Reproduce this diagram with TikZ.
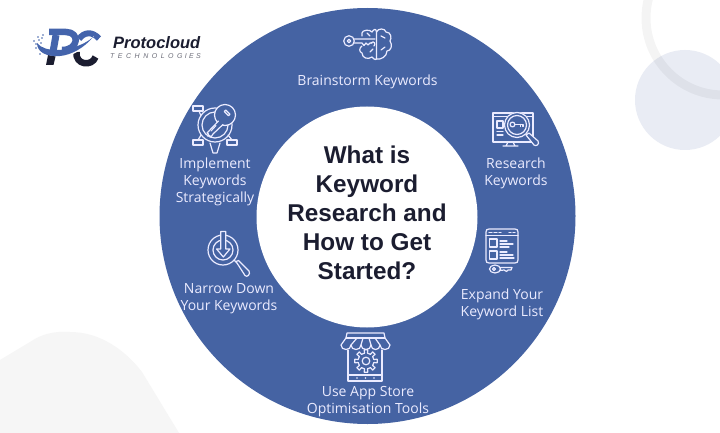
\documentclass[tikz,border=0pt]{standalone}
\usepackage{fontspec}
\setmainfont{Liberation Sans}
\newfontfamily\labelfont{Open Sans}
\begin{document}
\begin{tikzpicture}[x=1pt,y=-1pt,
  lab/.style={text=white!92!blue,font=\labelfont\fontsize{14}{17}\selectfont,align=center,inner sep=0pt},
  ttl/.style={text=ink,font=\fontsize{24.3}{29}\selectfont\bfseries,align=center,inner sep=0pt},
  ic/.style={draw=white!92!blue,line width=1.2pt,line join=round,line cap=round}]
\definecolor{disc}{HTML}{4563A3}
\definecolor{ink}{HTML}{1B1D30}
\definecolor{logob}{HTML}{4464AC}
\definecolor{softc}{HTML}{E9ECF4}
\definecolor{blobc}{HTML}{F6F6F6}
\useasboundingbox (0,0) rectangle (720,433);
\fill[white] (0,0) rectangle (720,433);
% background decoration
\fill[blobc] (0,360) -- (30,342) .. controls (48,330) and (62,332) .. (70,332) .. controls (100,332) and (125,350) .. (142,372) -- (179,433) -- (0,433) -- cycle;
\fill[softc] (685,100) circle (50);
\begin{scope}
\clip (0,0) rectangle (720,433);
\draw[black,opacity=.045,line width=9pt] (723,18) circle (77);
\end{scope}
% main discs
\node[circle,fill=disc,minimum size=416pt,inner sep=0pt] (outer) at (367.5,216) {};
\node[circle,fill=white,minimum size=221pt,inner sep=0pt] (inner) at (367,217) {};
\node[ttl] (title) at (367,213) {What is\\Keyword\\Research and\\How to Get\\Started?};
% labels
\node[lab] (l1) at (367.5,82) {Brainstorm Keywords};
\node[lab] (l2) at (516,173) {Research\\Keywords};
\node[lab] (l3) at (502,304) {Expand Your\\Keyword List};
\node[lab] (l4) at (368,402) {Use App Store\\Optimisation Tools};
\node[lab] (l5) at (229,299) {Narrow Down\\Your Keywords};
\node[lab] (l6) at (215,181.5) {Implement\\Keywords\\Strategically};
% icon 1: key + brain
\begin{scope}[ic]
\draw (349,41) circle (5.3);\draw (349,41) circle (1.8);
\draw (354.3,39) -- (375,39) (354.3,43) -- (362,43) -- (364,45.5) -- (366,43) -- (368,45) -- (370,43) -- (372,43);
\draw (372,32) .. controls (370,29) and (362,30) .. (362,33) -- (362,36);
\draw (362,46) .. controls (359,48) and (359,52) .. (362,53) .. controls (362,58) and (368,60) .. (372,57) .. controls (374,60) and (377,60) .. (376.5,59) -- (376.5,32) .. controls (376,28) and (374,29) .. (372,32);
\draw (376.5,32) .. controls (378,28) and (385,28) .. (386,32) .. controls (391,32) and (392,38) .. (390,41) .. controls (393,45) and (391,51) .. (387,51) .. controls (387,57) and (380,60) .. (376.5,59);
\draw (381,36) -- (385,38) (370,52) -- (373,49) (381,50) -- (385,47) (367,33) -- (370,36) (371,43) .. controls (374,40) and (376,44) .. (374,46);
\end{scope}
% icon 2: monitor + magnifier
\begin{scope}[ic]
\draw (493,142) -- (493,113) -- (533,113) -- (533,142) -- cycle;
\draw (493,116.5) -- (533,116.5);
\draw (497,121) rectangle (503,128);
\draw (497,131.5) -- (503,131.5) (497,135) -- (503,135);
\draw (508,142) -- (506,146) -- (503,146) -- (518,146) -- (515,146) -- (513,142);
\fill[disc] (517,125) circle (13);
\draw (517,125) circle (12.5);
\draw (517,125) circle (9.5);
\draw (512.5,124.5) circle (2.4);
\draw (515,124.5) -- (523,124.5) -- (523,126.5) (520.5,124.5) -- (520.5,126.5);
\draw[fill=disc] (526,135) -- (529,133) -- (538,141) .. controls (540,144) and (536,147) .. (534,145) -- cycle;
\end{scope}
% icon 3: page + key
\begin{scope}[ic]
\draw (489,263) .. controls (487,263) and (486,262) .. (486,260) -- (486,232) .. controls (486,230) and (487,229) .. (489,229) -- (515,229) .. controls (517,229) and (518,230) .. (518,232) -- (518,260) .. controls (518,262) and (517,263) .. (515,263) -- cycle;
\draw (486,235.5) -- (518,235.5);
\draw (489,232.4) -- (492,232.4) (494,232.4) -- (497,232.4) (499,232.4) -- (501,232.4) (509,232.4) -- (511,232.4) (513,232.4) -- (515,232.4);
\draw (489.5,239) rectangle (497,247);
\draw (489.5,251) rectangle (497,259);
\draw (500,241) -- (507,241) (500,244) -- (513,244) (500,247) -- (509,247);
\draw (500,252) -- (507,252) (500,255) -- (513,255) (500,258) -- (514,258);
\draw[fill=disc] (495,269) ellipse (5.5 and 4);
\draw (494,269) circle (1.5);
\draw (500.5,267.5) -- (512,267.5) -- (511,270) -- (508,270) -- (506.5,271.5) -- (504,270) -- (500,270.5);
\end{scope}
% icon 4: store
\begin{scope}[ic]
\draw (347,333) -- (384,333) -- (385,338) -- (390,345) .. controls (390,351) and (380,351) .. (380,345) .. controls (380,351) and (371,351) .. (371,345) .. controls (371,351) and (361,351) .. (361,345) .. controls (361,351) and (351,351) .. (351,345) .. controls (351,351) and (341,351) .. (341,345) -- (346,338) -- cycle;
\draw (346,338) -- (385,338);
\draw (357,338) -- (351,345) (363,338) -- (361,345) (369,338) -- (371,345) (375,338) -- (380,345);
\draw (348,350) -- (348,381) -- (382,381) -- (382,350);
\draw (348,375) -- (382,375);
\fill[white!92!blue] (357,378) circle (.8) (365.5,378) circle (.8) (374,378) circle (.8);
\draw (366,361) circle (3.8);
\foreach \a in {0,45,...,315}{
  \draw ([shift={(366,361)}] \a-11:8) -- ([shift={(366,361)}] \a-9:11.3) -- ([shift={(366,361)}] \a+9:11.3) -- ([shift={(366,361)}] \a+11:8) -- ([shift={(366,361)}] \a+34:8);
}
\end{scope}
% icon 5: magnifier with arrow
\begin{scope}[ic]
\draw (223,250) circle (15);
\draw (223,250) circle (10);
\draw[fill=disc] (220.8,231.5) -- (225.8,231.5) -- (225.8,249) -- (230,249) -- (223.3,257) -- (216.6,249) -- (220.8,249) -- cycle;
\draw (234,260) -- (237,263);
\draw[fill=disc] (236,261.5) -- (238.5,260.5) -- (249,271) .. controls (251,274) and (247,278) .. (245,275.5) -- cycle;
\end{scope}
% icon 6: key in magnifier with boxes
\begin{scope}[ic]
\draw (193,106) rectangle (203,111);
\draw (193,140) rectangle (203,145);
\draw (227,140) rectangle (237,145);
\draw (199,111) -- (201,116);
\draw (198,140) -- (201,135);
\draw (232,140) -- (228,135);
\draw (215,125) circle (17);
\draw (215,125) circle (13);
\draw (210,143) -- (213,153) -- (217,153) -- (220,143);
\draw[fill=disc] (225,115) circle (10.5);
\draw[rotate around={-45:(225,115)}] (222,111) rectangle (228,113);
\draw[fill=disc] (218.5,121) -- (207,133) -- (208.5,134) -- (207.5,136) -- (209.5,135.5) -- (211,137) -- (213,134) -- (223,124.5);
\draw (216,125.5) -- (211,131);
\end{scope}
% logo
\begin{scope}[line cap=butt,line join=round]
\draw[logob,line width=6.5pt] (49,32) -- (66,32) .. controls (80,32) and (79,50) .. (62,50);
\draw[logob,line width=7pt] (56,35) -- (53,52);
\fill[ink] (48,55) -- (55.5,56.5) -- (53.5,65) -- (46,65) -- cycle;
\draw[logob,line width=6pt] (99,38.5) .. controls (92,31) and (84,32) .. (79,39);
\draw[ink,line width=6.5pt] (76.5,52) .. controls (75,65) and (92,67) .. (95.5,57);
\fill[white] (60,57.5) .. controls (74,56) and (86,48) .. (94,36) .. controls (86,44) and (72,50) .. (60,52) -- cycle;
\fill[logob] (37,43) .. controls (37,52) and (46,57) .. (60,56) .. controls (72,55) and (85,47) .. (93,37) .. controls (86,44) and (70,50) .. (57,50) .. controls (48,50) and (41,48) .. (37,43) -- cycle;
\end{scope}
\foreach \p in {(36,44),(39,40),(42,38),(38,37),(34,41),(41,43),(43,35),(36,48),(40,54)}
  \fill[logob] \p circle (.9);
\node[inner sep=0pt,anchor=west,text=ink,font=\fontsize{16.5}{18}\selectfont\bfseries\itshape] (brand) at (113,42.5) {Protocloud};
\node[inner sep=0pt,anchor=west,text=ink!65,font=\fontsize{7}{9}\selectfont\itshape] (brandsub) at (110,55.8) {T\,\,\,E\,\,\,C\,\,\,H\,\,\,N\,\,\,O\,\,\,L\,\,\,O\,\,\,G\,\,I\,\,E\,\,S};
\end{tikzpicture}
\end{document}
